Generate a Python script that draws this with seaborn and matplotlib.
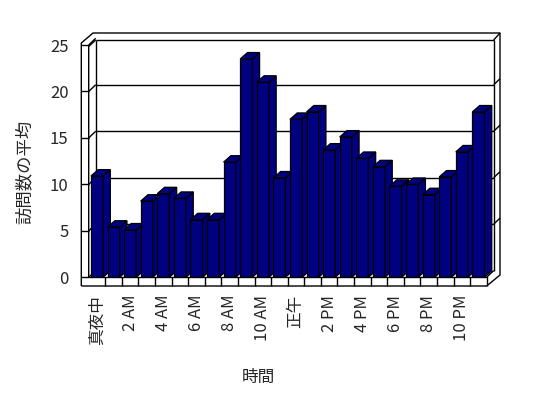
import matplotlib
matplotlib.use("Agg")
import matplotlib.pyplot as plt
import matplotlib.transforms as mtransforms
from matplotlib.patches import Polygon
from matplotlib.lines import Line2D
import seaborn as sns
import pandas as pd

# ---- data ----
hours = ["真夜中", "1 AM", "2 AM", "3 AM", "4 AM", "5 AM", "6 AM", "7 AM",
         "8 AM", "9 AM", "10 AM", "11 AM", "正午", "1 PM", "2 PM", "3 PM",
         "4 PM", "5 PM", "6 PM", "7 PM", "8 PM", "9 PM", "10 PM", "11 PM"]
visits = [10.9, 5.4, 5.1, 8.2, 9.0, 8.5, 6.2, 6.2,
          12.4, 23.5, 21.0, 10.7, 17.0, 17.8, 13.7, 15.1,
          12.8, 11.9, 9.8, 10.0, 8.9, 10.8, 13.5, 17.8]
y_ticks = [0, 5, 10, 15, 20, 25]
x_tick_idx = list(range(0, 24, 2))
x_label = "時間"
y_label = "訪問数の平均"

df = pd.DataFrame({"hour": hours, "visits": visits})

sns.set_style("white")
plt.rcParams["font.family"] = ["Noto Sans CJK JP", "DejaVu Sans"]

W, H = 548, 398
fig = plt.figure(figsize=(W / 100, H / 100), dpi=100)
fig.patch.set_facecolor("white")

# front plane of the 3-D box in pixel coordinates
fx0, fx1 = 88.7, 486.7
fy0, fy1 = 277.3, 45.0
ax = fig.add_axes([fx0 / W, (H - fy0) / H, (fx1 - fx0) / W, (fy0 - fy1) / H])

navy = "#000080"
sns.barplot(data=df, x="hour", y="visits", color=navy, width=0.73,
            edgecolor="black", linewidth=0.9, saturation=1, ax=ax, zorder=3)

ax.set_xlim(-0.5, 23.5)
ax.set_ylim(0, 25)
for s in ax.spines.values():
    s.set_visible(False)
ax.patch.set_alpha(0)

# pixel -> data conversion factors
px_x = 24 / (fx1 - fx0)
px_y = 25 / (fy0 - fy1)
ddx, ddy = 7.3 * px_x, 6.4 * px_y  # bar depth

for i, p in enumerate(ax.patches):
    x0 = p.get_x()
    x1 = x0 + p.get_width()
    h = p.get_height()
    z = 3 + 0.01 * i
    p.set_zorder(z)
    side = Polygon([(x1, 0), (x1 + ddx, ddy), (x1 + ddx, h + ddy), (x1, h)],
                   closed=True, facecolor=navy, edgecolor="black",
                   linewidth=0.9, zorder=z, clip_on=False)
    top = Polygon([(x0, h), (x0 + ddx, h + ddy), (x1 + ddx, h + ddy), (x1, h)],
                  closed=True, facecolor=navy, edgecolor="black",
                  linewidth=0.9, zorder=z, clip_on=False)
    ax.add_patch(side)
    ax.add_patch(top)

# ---- box decorations in pixel coordinates ----
pix = mtransforms.Affine2D().scale(1 / W, -1 / H).translate(0, 1) + fig.transFigure


def pline(xs, ys, z=1):
    fig.add_artist(Line2D(xs, ys, transform=pix, color="black", lw=1.0,
                          zorder=z, solid_capstyle="butt"))


BEHIND = -1
wdx, wdy = 7.0, 6.7  # wall depth in px
bx0, bx1 = fx0 + wdx, fx1 + wdx
# back wall (behind bars)
pline([bx0, bx0], [fy0 - wdy, 40], z=BEHIND)
pline([bx0, bx1], [40, 40])
pline([bx1, bx1], [40, fy0 - wdy], z=BEHIND)
# outer frame
pline([81.3, 81.3, 93, 500, 500, 486.7, 81.3],
      [286, 43, 33, 33, 275, 286, 286])
pline([bx1, 500], [40, 33])
# left wall inner edge
pline([fx0, fx0, bx0], [fy0, 46.5, 40])
# floor
pline([fx0, fx1, fx1], [fy0, fy0, 286])
pline([fx1, bx1], [fy0, fy0 - wdy], z=BEHIND)

# gridlines on back wall & wall ticks
def ypx(v):
    return fy0 - v * (fy0 - fy1) / 25

for v in y_ticks:
    yf = ypx(v)
    if 0 < v < 25:
        pline([bx0, bx1], [yf - wdy, yf - wdy], z=BEHIND)
        pline([bx1, 500], [yf - wdy, yf - wdy - 6.0])
    pline([81.3, fx0], [yf, yf])
    pline([fx0, bx0], [yf, yf - wdy], z=BEHIND)

# category ticks on floor
for k in range(1, 24):
    xk = fx0 + k * (fx1 - fx0) / 24
    pline([xk, xk], [fy0, 286])

# ---- tick labels ----
ax.set_yticks(y_ticks)
ax.set_yticklabels([str(v) for v in y_ticks], fontsize=12)
ax.tick_params(axis="y", length=0, pad=14.5)
ax.set_xticks(x_tick_idx)
ax.set_xticklabels([hours[i] for i in x_tick_idx], rotation=90, fontsize=12)
ax.tick_params(axis="x", length=0, pad=12.5)

ax.set_xlabel(x_label, fontsize=12)
ax.set_ylabel(y_label, fontsize=12.5)
ax.xaxis.set_label_coords((258 - fx0) / (fx1 - fx0), (fy0 - 377) / (fy0 - fy1))
ax.yaxis.set_label_coords((25 - fx0) / (fx1 - fx0), (fy0 - 172) / (fy0 - fy1))
ax.xaxis.label.set_va("center")
ax.yaxis.label.set_va("center")

fig.savefig("out.png", dpi=100, facecolor="white")
